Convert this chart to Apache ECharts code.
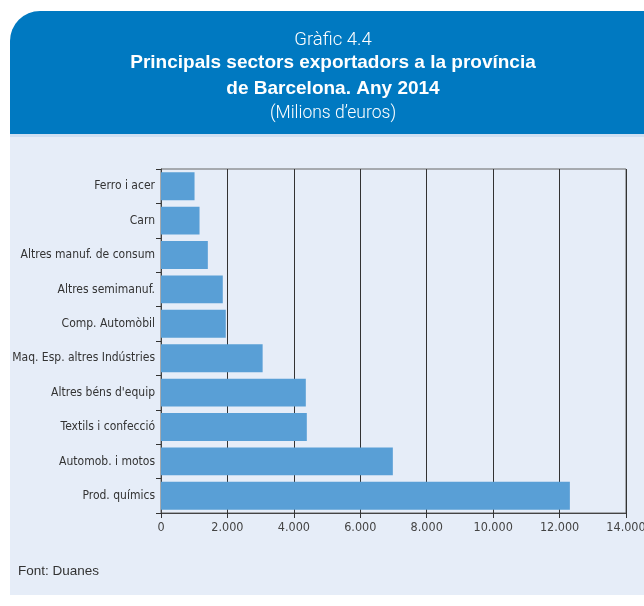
<!DOCTYPE html>
<html>
<head>
<meta charset="utf-8">
<script src="https://cdn.jsdelivr.net/npm/echarts@6/dist/echarts.min.js"></script>
<style>
html,body{margin:0;padding:0;background:#fff;}
#c{width:644px;height:606px;}
</style>
</head>
<body>
<div id="c"></div>
<script>
var categories = ['Ferro i acer','Carn','Altres manuf. de consum','Altres semimanuf.','Comp. Automòbil','Maq. Esp. altres Indústries',"Altres béns d'equip",'Textils i confecció','Automob. i motos','Prod. químics'];
var values = [1010, 1160, 1410, 1860, 1950, 3060, 4360, 4390, 6980, 12310];
var xTicks = [0, 2000, 4000, 6000, 8000, 10000, 12000, 14000];

var chart = echarts.init(document.getElementById('c'), null, {renderer:'canvas'});
var narrow = '"DejaVu Sans Condensed", "Liberation Sans", sans-serif';
chart.setOption({
  animation: false,
  backgroundColor: '#ffffff',
  graphic: [
    {type:'rect', z:-10, shape:{x:10, y:136, width:640, height:459}, style:{fill:'#e6edf8'}},
    {type:'rect', z:-9, shape:{x:10, y:11, width:640, height:124, r:[30,0,0,0]}, style:{fill:'#0079c1'}},
    {type:'rect', z:-8, shape:{x:10, y:134, width:640, height:3}, style:{fill:'#cfdff2'}},
    {type:'text', x:333, y:40, style:{text:'Gràfic 4.4', fill:'#fff', font:'300 18.5px Roboto, "Liberation Sans", sans-serif', align:'center', verticalAlign:'middle'}},
    {type:'text', x:333, y:63, style:{text:'Principals sectors exportadors a la província', fill:'#fff', font:'bold 19px "Liberation Sans", Arial, sans-serif', align:'center', verticalAlign:'middle'}},
    {type:'text', x:333, y:89, style:{text:'de Barcelona. Any 2014', fill:'#fff', font:'bold 19px "Liberation Sans", Arial, sans-serif', align:'center', verticalAlign:'middle'}},
    {type:'text', x:333, y:114, style:{text:'(Milions d’euros)', fill:'#fff', font:'300 17.5px Roboto, "Liberation Sans", sans-serif', align:'center', verticalAlign:'middle'}},
    {type:'text', x:18, y:571, style:{text:'Font: Duanes', fill:'#333', font:'13.5px "Liberation Sans", Arial, sans-serif', align:'left', verticalAlign:'middle'}}
  ],
  grid: {left:161, right:18, top:169, bottom:93, show:true, borderColor:'#666', borderWidth:1, backgroundColor:'transparent', containLabel:false, outerBoundsMode:'none'},
  xAxis: {
    type:'value', min:0, max:14000, interval:2000,
    axisLine:{show:true, lineStyle:{color:'#444', width:1}},
    axisTick:{show:true, length:5, lineStyle:{color:'#333'}},
    splitLine:{show:true, lineStyle:{color:'#333', width:1}},
    axisLabel:{color:'#444', fontSize:12.5, fontFamily:narrow, margin:8, hideOverlap:false,
      formatter:function(v){return v.toString().replace(/\B(?=(\d{3})+(?!\d))/g,'.');}}
  },
  yAxis: {
    type:'category', data:categories, inverse:true,
    axisLine:{show:true, lineStyle:{color:'#444', width:1}},
    axisTick:{show:true, length:5, lineStyle:{color:'#333'}},
    axisLabel:{color:'#333', fontSize:12, fontFamily:narrow, margin:6},
    splitLine:{show:false}
  },
  series: [{
    type:'bar', data:values, barCategoryGap:'19%',
    itemStyle:{color:'#599fd6'}, z:3
  }]
});
</script>
</body>
</html>
